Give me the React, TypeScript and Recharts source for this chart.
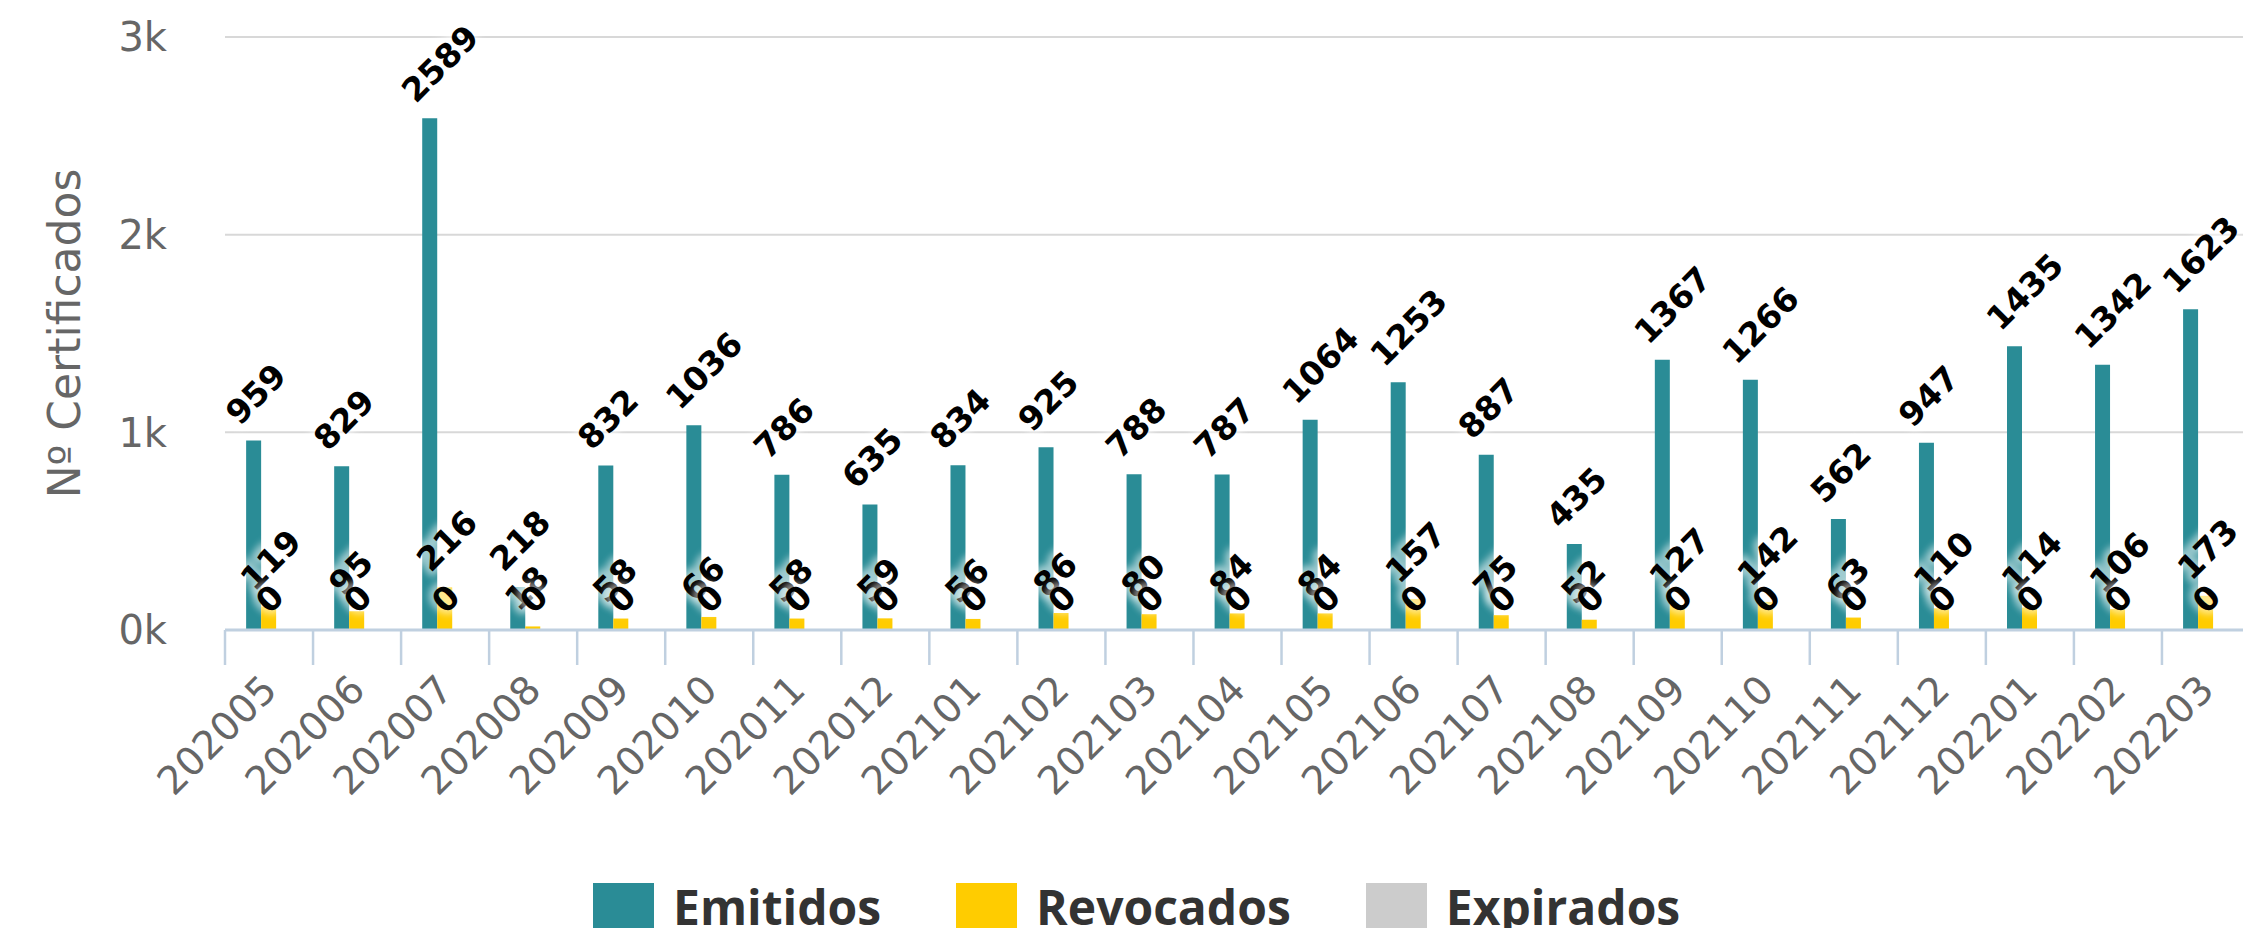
import React from "react";
import { BarChart, Bar, XAxis, YAxis, CartesianGrid, Legend, LabelList } from "recharts";

const CATEGORIES = [
  "202005", "202006", "202007", "202008", "202009", "202010", "202011", "202012",
  "202101", "202102", "202103", "202104", "202105", "202106", "202107", "202108",
  "202109", "202110", "202111", "202112", "202201", "202202", "202203",
];
const EMITIDOS = [959, 829, 2589, 218, 832, 1036, 786, 635, 834, 925, 788, 787, 1064, 1253, 887, 435, 1367, 1266, 562, 947, 1435, 1342, 1623];
const REVOCADOS = [119, 95, 216, 18, 58, 66, 58, 59, 56, 86, 80, 84, 84, 157, 75, 52, 127, 142, 63, 110, 114, 106, 173];
const EXPIRADOS = [0, 0, 0, 0, 0, 0, 0, 0, 0, 0, 0, 0, 0, 0, 0, 0, 0, 0, 0, 0, 0, 0, 0];
const Y_TICKS = [0, 1000, 2000, 3000];

const SERIES_NAMES = ["Emitidos", "Revocados", "Expirados"];
const COLORS = ["#2a8c96", "#ffcc00", "#cccccc"];
const Y_TITLE = "Nº Certificados";

const data = CATEGORIES.map((c, i) => ({
  mes: c,
  emitidos: EMITIDOS[i],
  revocados: REVOCADOS[i],
  expirados: EXPIRADOS[i],
}));

const AXIS_FONT = "'DejaVu Sans', Verdana, sans-serif";
const LEGEND_FONT = "'Open Sans', 'Noto Sans', sans-serif";

function XTick(props: any) {
  const { x, y, payload } = props;
  const half = payload && typeof payload.offset === "number" && payload.offset > 0 ? payload.offset : 44;
  const tx = x + 10;
  const ty = y + 62;
  return (
    <g>
      <line x1={x - half} x2={x - half} y1={y} y2={y + 35} stroke="#c0d0e0" strokeWidth={2.5} />
      <text
        x={tx}
        y={ty}
        transform={`rotate(-45, ${tx}, ${ty})`}
        textAnchor="end"
        fontSize={39}
        fill="#666666"
        fontFamily={AXIS_FONT}
      >
        {payload.value}
      </text>
    </g>
  );
}

function YTick(props: any) {
  const { x, y, payload } = props;
  return (
    <text x={x} y={y} dy="0.36em" textAnchor="end" fontSize={40} fill="#666666" fontFamily={AXIS_FONT}>
      {`${Math.round(payload.value / 1000)}k`}
    </text>
  );
}

function YTitle(props: any) {
  const vb = props.viewBox || {};
  const x = (vb.x || 0) + 80;
  const y = (vb.y || 0) + (vb.height || 0) / 2;
  return (
    <text
      x={x}
      y={y}
      transform={`rotate(-90, ${x}, ${y})`}
      textAnchor="middle"
      fontSize={44}
      fill="#666666"
      fontFamily={AXIS_FONT}
    >
      {Y_TITLE}
    </text>
  );
}

function DataLabel(props: any) {
  const { x, y, width, height, value } = props;
  if (x === undefined || y === undefined) return null;
  const cx = Number(x) + Number(width || 0) / 2;
  const h = Number(height || 0);
  const top = h < 0 ? Number(y) + h : Number(y);
  const px = cx - 14;
  const py = top - 14;
  const tr = `rotate(-45, ${px}, ${py})`;
  return (
    <g>
      <defs>
        <filter id="lblGlow" x="-50%" y="-50%" width="200%" height="200%">
          <feGaussianBlur stdDeviation="3.5" />
        </filter>
      </defs>
      <text
        x={px}
        y={py}
        transform={tr}
        textAnchor="start"
        fontSize={33}
        fontWeight="bold"
        fontFamily={AXIS_FONT}
        fill="#ffffff"
        stroke="#ffffff"
        strokeWidth={9}
        opacity={0.55}
        filter="url(#lblGlow)"
      >
        {value}
      </text>
      <text
        x={px}
        y={py}
        transform={tr}
        textAnchor="start"
        fontSize={33}
        fontWeight="bold"
        fontFamily={AXIS_FONT}
        fill="#000000"
      >
        {value}
      </text>
    </g>
  );
}

function LegendContent(props: any) {
  const payload = [...(props.payload || [])].sort(
    (a: any, b: any) => SERIES_NAMES.indexOf(a.value) - SERIES_NAMES.indexOf(b.value)
  );
  return (
    <div style={{ display: "flex", alignItems: "flex-start", paddingLeft: 593, gap: 75 }}>
      {payload.map((item: any) => (
        <div key={item.value} style={{ display: "flex", alignItems: "flex-start" }}>
          <div style={{ width: 61, height: 61, background: item.color, marginRight: 19 }} />
          <span
            style={{
              fontFamily: LEGEND_FONT,
              fontWeight: 700,
              fontSize: 48,
              lineHeight: "48px",
              color: "#333333",
              whiteSpace: "nowrap",
            }}
          >
            {item.value}
          </span>
        </div>
      ))}
    </div>
  );
}

export default function App() {
  return (
    <div
      style={{
        position: "fixed",
        left: 0,
        top: 0,
        width: 2243,
        height: 928,
        overflow: "hidden",
        background: "#ffffff",
      }}
    >
      <BarChart
        width={2250}
        height={928}
        data={data}
        margin={{ top: 37, right: 0, bottom: 0, left: 0 }}
        barCategoryGap="24%"
        barGap={0}
      >
        <CartesianGrid horizontal vertical={false} stroke="#d8d8d8" strokeWidth={2} />
        <XAxis
          dataKey="mes"
          interval={0}
          height={298}
          tickLine={false}
          tickSize={0}
          tickMargin={0}
          axisLine={{ stroke: "#c0d0e0", strokeWidth: 3 }}
          tick={<XTick />}
        />
        <YAxis
          width={225}
          domain={[0, 3000]}
          ticks={Y_TICKS}
          axisLine={false}
          tickLine={false}
          tickSize={0}
          tickMargin={58}
          tick={<YTick />}
          label={{ content: (p: any) => <YTitle {...p} /> }}
        />
        <Legend
          layout="horizontal"
          verticalAlign="middle"
          align="center"
          content={<LegendContent />}
          wrapperStyle={{ left: 0, top: 883, width: 2250, height: 61 }}
        />
        <Bar dataKey="emitidos" name={SERIES_NAMES[0]} fill={COLORS[0]} isAnimationActive={false}>
          <LabelList dataKey="emitidos" content={<DataLabel />} />
        </Bar>
        <Bar dataKey="revocados" name={SERIES_NAMES[1]} fill={COLORS[1]} isAnimationActive={false}>
          <LabelList dataKey="revocados" content={<DataLabel />} />
        </Bar>
        <Bar dataKey="expirados" name={SERIES_NAMES[2]} fill={COLORS[2]} minPointSize={1} isAnimationActive={false}>
          <LabelList dataKey="expirados" content={<DataLabel />} />
        </Bar>
      </BarChart>
    </div>
  );
}
